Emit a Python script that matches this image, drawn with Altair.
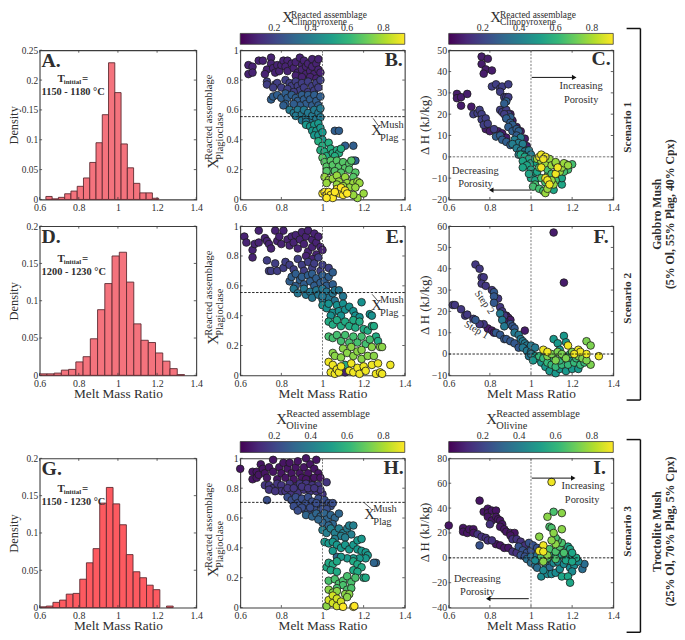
import altair as alt
import pandas as pd

FONT = "Liberation Serif"
W, H = 166.5, 151
W1 = 158.5
FRAME = "#3c3c3c"
TXT = "#2e2e2e"
VIRIDIS = ["#440154", "#482878", "#3e4989", "#31688e", "#26828e", "#1f9e89", "#35b779", "#6ece58", "#b5de2b", "#fde725"]
CMIN, CMAX = 0.015, 0.92
MMR_TICKS = [0.6, 0.8, 1, 1.2, 1.4]

# ---------------- histograms (bin start, bin end implied by width, density)
A_width = 0.032
A_start = [0.632, 0.664, 0.696, 0.728, 0.76, 0.792, 0.824, 0.856, 0.888, 0.92, 0.952, 0.984, 1.016, 1.048, 1.08, 1.112, 1.144, 1.176]
A_dens = [0.005, 0.001, 0.0035, 0.0095, 0.014, 0.022, 0.036, 0.062, 0.095, 0.142, 0.229, 0.179, 0.093, 0.053, 0.027, 0.011, 0.011, 0.002]
D_width = 0.037
D_start = [0.6, 0.637, 0.674, 0.711, 0.748, 0.785, 0.822, 0.859, 0.896, 0.933, 0.97, 1.007, 1.044, 1.081, 1.118, 1.155, 1.192, 1.229, 1.266, 1.303]
D_dens = [0.002, 0.002, 0.003, 0.007, 0.008, 0.018, 0.025, 0.049, 0.088, 0.123, 0.16, 0.165, 0.125, 0.069, 0.047, 0.044, 0.03, 0.019, 0.009, 0.001]
G_width = 0.0341
G_start = [0.6, 0.634, 0.668, 0.702, 0.736, 0.771, 0.805, 0.839, 0.873, 0.907, 0.941, 0.975, 1.009, 1.043, 1.078, 1.112, 1.146, 1.18, 1.248]
G_dens = [0.001, 0.002, 0.007, 0.01, 0.018, 0.019, 0.038, 0.06, 0.079, 0.14, 0.161, 0.139, 0.111, 0.071, 0.048, 0.04, 0.03, 0.024, 0.002]

# ---------------- scatter groups: (composition, [(melt mass ratio, y), ...])
B_groups = [
 (0.10, [(0.64,0.90),(0.66,0.89),(0.64,0.84),(0.66,0.85),(0.69,0.93),(0.71,0.93),(0.75,0.95),(0.75,0.91),(0.73,0.87),(0.72,0.84),(0.76,0.88),(0.77,0.85),(0.78,0.90),(0.79,0.86),(0.80,0.90),(0.81,0.93),(0.83,0.93),(0.82,0.89),(0.83,0.86),(0.85,0.91),(0.86,0.88),(0.87,0.92),(0.88,0.85),(0.89,0.95),(0.90,0.90),(0.90,0.87),(0.91,0.93),(0.92,0.84),(0.92,0.89),(0.93,0.91),(0.94,0.86),(0.95,0.94),(0.95,0.89),(0.96,0.84),(0.97,0.91),(0.98,0.94),(0.98,0.87),(0.99,0.85),(0.87,0.83),(0.90,0.82),(0.94,0.82),(0.97,0.81)]),
 (0.18, [(0.73,0.79),(0.73,0.77),(0.77,0.77),(0.78,0.78),(0.76,0.75),(0.80,0.75),(0.82,0.80),(0.84,0.78),(0.85,0.76),(0.83,0.74),(0.87,0.79),(0.88,0.76),(0.89,0.73),(0.90,0.78),(0.91,0.75),(0.93,0.79),(0.93,0.72),(0.95,0.76),(0.96,0.73),(0.97,0.78),(0.98,0.75),(0.99,0.80),(0.86,0.72)]),
 (0.28, [(0.75,0.67),(0.76,0.69),(0.78,0.70),(0.80,0.68),(0.82,0.71),(0.83,0.68),(0.85,0.70),(0.87,0.68),(0.88,0.66),(0.90,0.70),(0.91,0.67),(0.92,0.64),(0.93,0.70),(0.94,0.67),(0.95,0.63),(0.96,0.70),(0.97,0.66),(0.98,0.63),(0.99,0.69),(0.89,0.63),(0.86,0.64),(0.82,0.64),(0.81,0.63),(1.06,0.46),(1.08,0.46),(1.11,0.36),(1.15,0.36),(1.15,0.26),(1.16,0.26)]),
 (0.38, [(0.84,0.60),(0.86,0.58),(0.88,0.60),(0.87,0.56),(0.90,0.57),(0.91,0.60),(0.90,0.53),(0.92,0.55),(0.93,0.58),(0.94,0.52),(0.95,0.56),(0.96,0.60),(0.97,0.54),(0.98,0.58),(0.99,0.61),(0.99,0.55),(0.92,0.52)]),
 (0.50, [(0.92,0.50),(0.94,0.49),(0.96,0.50),(0.98,0.51),(0.95,0.46),(0.97,0.46),(0.99,0.48),(0.96,0.43),(0.98,0.43),(1.00,0.45),(1.00,0.40)]),
 (0.58, [(0.98,0.39),(1.00,0.36),(0.99,0.33),(1.01,0.32),(1.03,0.38),(1.04,0.34),(1.02,0.29),(1.05,0.31),(1.07,0.33),(1.08,0.31),(1.06,0.29),(1.09,0.34)]),
 (0.68, [(1.00,0.28),(1.01,0.25),(1.02,0.22),(1.04,0.26),(1.05,0.23),(1.03,0.19),(1.07,0.26),(1.08,0.22),(1.06,0.19),(1.10,0.25),(1.11,0.21),(1.09,0.18),(1.13,0.24),(1.14,0.26),(1.13,0.20),(1.16,0.18),(1.02,0.19),(1.15,0.15)]),
 (0.78, [(1.01,0.15),(1.03,0.13),(1.02,0.11),(1.05,0.14),(1.07,0.16),(1.08,0.12),(1.11,0.15),(1.12,0.11),(1.15,0.11),(1.17,0.12),(1.18,0.11),(1.13,0.08),(1.16,0.08),(1.07,0.10),(1.10,0.09),(1.17,0.01),(1.20,0.04),(1.15,0.03)]),
 (0.92, [(1.00,0.04),(1.01,0.05),(1.02,0.03),(1.03,0.05),(1.04,0.03),(1.05,0.01),(1.02,0.01),(1.07,0.07),(1.08,0.04),(1.09,0.08),(1.06,0.05),(1.10,0.03),(1.11,0.06),(1.12,0.04)]),
]
C_groups = [
 (0.08, [(0.76,47),(0.79,46),(0.76,43.5),(0.78,41),(0.81,40.5),(0.77,39),(0.64,29.5),(0.64,27.5),(0.66,28),(0.66,24),(0.69,29.5),(0.71,23.5),(0.88,18),(0.90,20),(0.91,17),(0.93,14),(0.95,12),(0.97,8.5),(0.98,5),(0.84,12),(0.86,11),(0.88,9),(0.78,13),(0.80,12)]),
 (0.18, [(0.81,33),(0.83,34),(0.85,32),(0.86,33),(0.85,30.5),(0.89,34),(0.87,28),(0.88,28),(0.89,28),(0.72,20),(0.74,20.5),(0.75,22),(0.76,20),(0.76,17.5),(0.78,18),(0.77,15),(0.79,15.5),(0.82,13),(0.85,22),(0.86,21),(0.88,22),(0.89,20),(0.87,20)]),
 (0.28, [(0.88,26),(0.87,25),(0.90,18.5),(0.88,18),(0.90,16),(0.91,15),(0.89,14),(0.91,12),(0.93,13),(0.83,9.5),(0.85,10),(0.86,8),(0.88,7),(0.90,5.5),(0.94,12),(0.93,10)]),
 (0.40, [(0.95,9),(0.92,8),(0.94,6.5),(0.96,6),(0.91,6),(0.93,4),(0.95,3),(0.98,3),(0.97,2.5),(0.99,3),(1.0,1),(0.94,1),(0.96,1)]),
 (0.55, [(0.95,1),(0.97,0),(0.99,-1),(1.0,-3),(0.96,-2),(0.98,-4),(0.96,-5),(1.0,-6),(1.02,-1),(1.03,-3),(1.01,-8),(1.03,-7),(1.0,-10),(1.02,-11),(0.99,-8),(1.15,-13),(1.11,-15.5),(1.15,-10)]),
 (0.65, [(1.02,-13),(1.01,-14),(1.04,-15),(1.06,-16),(1.05,-10),(1.07,-12),(1.08,-9),(1.04,-5),(1.06,-4),(1.08,-6),(1.10,-8),(1.12,-11),(1.13,-6),(1.18,-6),(1.20,-3.5),(1.16,-7),(1.17,-3.5)]),
 (0.78, [(1.03,-1),(1.05,-2),(1.07,-3),(1.09,-1),(1.10,-4),(1.12,-3),(1.14,-7),(1.15,-5),(1.16,-3),(1.18,-4),(1.09,-12),(1.11,-13),(1.07,-17),(1.08,-15),(1.12,-2.5),(1.10,-11)]),
 (0.90, [(1.04,0),(1.05,1),(1.07,0),(1.06,-1),(1.07,-10),(1.08,-11),(1.09,-13),(1.12,-8),(1.13,-5),(1.05,-5)]),
]
E_groups = [
 (0.10, [(0.62,0.93),(0.63,0.89),(0.66,0.84),(0.66,0.79),(0.67,0.88),(0.69,0.89),(0.69,0.97),(0.72,0.92),(0.73,0.90),(0.74,0.88),(0.75,0.85),(0.77,0.97),(0.78,0.90),(0.79,0.93),(0.80,0.88),(0.81,0.97),(0.83,0.91),(0.84,0.87),(0.85,0.93),(0.86,0.89),(0.87,0.94),(0.88,0.85),(0.89,0.91),(0.90,0.96),(0.91,0.88),(0.92,0.93),(0.93,0.97),(0.93,0.83),(0.95,0.91),(0.95,0.86),(0.96,0.95),(0.97,0.81),(0.97,0.89),(0.98,0.93),(0.99,0.86),(1.0,0.84),(0.92,0.80),(0.95,0.78),(1.11,0.02)]),
 (0.18, [(0.73,0.77),(0.74,0.70),(0.75,0.70),(0.77,0.75),(0.78,0.70),(0.81,0.72),(0.82,0.76),(0.84,0.74),(0.86,0.71),(0.88,0.78),(0.90,0.74),(0.91,0.70),(0.93,0.76),(0.95,0.72),(0.96,0.75),(0.98,0.79),(0.99,0.70),(1.0,0.74),(1.03,0.72),(1.16,0.39)]),
 (0.28, [(0.84,0.63),(0.85,0.66),(0.87,0.68),(0.87,0.60),(0.89,0.64),(0.90,0.66),(0.91,0.61),(0.93,0.67),(0.94,0.63),(0.95,0.68),(0.96,0.60),(0.97,0.65),(0.99,0.62),(1.00,0.67),(1.01,0.63),(1.03,0.66),(1.05,0.69),(1.02,0.60),(1.05,0.61)]),
 (0.37, [(0.86,0.58),(0.88,0.55),(0.91,0.58),(0.92,0.54),(0.94,0.56),(0.95,0.52),(0.97,0.57),(0.98,0.54),(1.0,0.58),(1.0,0.51),(1.02,0.56),(1.03,0.52),(1.05,0.55),(1.06,0.57),(1.08,0.57),(1.06,0.50),(1.0,0.53),(1.10,0.53)]),
 (0.47, [(1.00,0.47),(1.02,0.45),(1.03,0.48),(1.05,0.42),(1.07,0.47),(1.08,0.43),(1.10,0.48),(1.11,0.44),(1.13,0.46),(1.15,0.43),(1.19,0.49),(1.04,0.40),(1.09,0.40),(1.16,0.40),(1.18,0.39),(1.23,0.41),(1.24,0.40)]),
 (0.57, [(1.03,0.36),(1.05,0.34),(1.07,0.37),(1.09,0.33),(1.11,0.36),(1.13,0.33),(1.15,0.37),(1.16,0.32),(1.18,0.36),(1.20,0.31),(1.22,0.30),(1.24,0.33),(1.25,0.33),(1.26,0.26),(1.27,0.23),(1.11,0.07)]),
 (0.65, [(1.03,0.26),(1.05,0.25),(1.07,0.27),(1.09,0.23),(1.11,0.27),(1.13,0.22),(1.15,0.26),(1.17,0.22),(1.19,0.26),(1.21,0.21),(1.23,0.24)]),
 (0.76, [(1.05,0.15),(1.06,0.13),(1.09,0.12),(1.10,0.18),(1.12,0.15),(1.14,0.19),(1.15,0.13),(1.17,0.16),(1.19,0.11),(1.19,0.17),(1.22,0.13),(1.24,0.19),(1.25,0.13),(1.28,0.19),(1.29,0.19)]),
 (0.90, [(1.03,0.09),(1.04,0.02),(1.05,0.07),(1.06,0.01),(1.07,0.04),(1.08,0.02),(1.09,0.06),(1.13,0.03),(1.14,0.08),(1.15,0.02),(1.17,0.05),(1.18,0.01),(1.20,0.06),(1.21,0.03),(1.24,0.07),(1.26,0.01),(1.28,0.02),(1.29,0.01),(1.33,0.07),(1.27,0.08)]),
]
F_groups = [
 (0.08, [(1.11,57),(1.16,33.5),(0.86,18),(0.88,18),(0.89,17),(0.90,16),(0.97,11),(0.79,12),(0.81,11),(0.82,10),(0.87,16)]),
 (0.16, [(0.73,42),(0.75,40),(0.76,36),(0.77,36),(0.76,33),(0.78,32),(0.81,30),(0.84,26),(0.85,22),(0.86,20),(0.87,18),(0.62,23),(0.63,23),(0.66,21),(0.68,18),(0.69,18.5),(0.72,16.5),(0.77,14),(0.75,14)]),
 (0.26, [(0.82,29),(0.82,27),(0.82,24),(0.90,14),(0.91,13),(0.92,12),(0.73,16),(0.83,10),(0.85,9),(0.87,7),(0.88,7),(0.90,6),(0.92,5),(0.94,3)]),
 (0.38, [(0.85,19),(0.86,16),(0.87,13),(0.92,10),(0.94,9),(0.95,7),(0.96,6),(0.97,5),(0.98,4),(0.99,2.5),(0.96,3),(0.98,1.5),(1.0,1),(1.0,4),(1.02,3),(0.99,-1),(1.0,0)]),
 (0.50, [(1.02,-1),(1.03,-2),(1.01,-3),(1.05,-4),(1.07,-6),(1.09,-8),(1.12,-9),(1.14,-7),(1.17,-8),(1.20,-7),(1.23,-7),(1.11,7),(1.16,8.5),(1.13,5),(1.17,5.5),(1.19,-3),(1.14,2)]),
 (0.62, [(1.04,-1),(1.06,-2),(1.08,-4),(1.10,-5),(1.12,-6),(1.15,-5),(1.18,-5),(1.21,-4),(1.24,-5),(1.26,-4),(1.14,-3),(1.11,-2),(1.16,-1),(1.22,-2),(1.19,0)]),
 (0.74, [(1.08,-1),(1.10,0),(1.12,-3),(1.13,1),(1.15,0),(1.17,-2),(1.20,1),(1.23,-1),(1.25,-2),(1.27,6),(1.29,4),(1.29,-5),(1.27,-3)]),
 (0.90, [(1.06,2),(1.08,1),(1.18,4),(1.23,2),(1.24,1),(1.33,-1),(1.27,0),(1.21,0)]),
]
H_groups = [
 (0.06, [(0.60,0.93),(0.66,0.91),(0.66,0.86),(0.68,0.91),(0.68,0.87),(0.69,0.89),(0.70,0.96),(0.71,0.93),(0.72,0.90),(0.73,0.87),(0.74,0.94),(0.76,0.99),(0.76,0.91),(0.78,0.86),(0.79,0.94),(0.80,0.90),(0.81,0.97),(0.82,0.87),(0.83,0.93),(0.84,0.97),(0.85,0.90),(0.86,0.86),(0.87,0.94),(0.88,0.98),(0.89,0.90),(0.90,0.87),(0.91,0.94),(0.92,1.0),(0.93,0.90),(0.94,0.96),(0.95,0.86),(0.96,0.93),(0.97,0.99),(0.98,0.90),(0.96,0.87),(0.99,0.87),(0.92,0.86)]),
 (0.15, [(0.72,0.82),(0.74,0.82),(0.76,0.80),(0.78,0.83),(0.80,0.82),(0.80,0.78),(0.82,0.78),(0.84,0.83),(0.85,0.77),(0.87,0.81),(0.88,0.77),(0.89,0.83),(0.91,0.79),(0.92,0.83),(0.94,0.78),(0.95,0.82),(0.97,0.78),(0.98,0.82),(1.02,0.84),(1.0,0.76),(0.99,0.79),(0.83,0.80),(0.86,0.80),(0.90,0.81),(0.93,0.80),(0.96,0.80),(0.74,0.79),(0.77,0.78)]),
 (0.23, [(0.83,0.74),(0.85,0.72),(0.87,0.74),(0.88,0.70),(0.90,0.73),(0.92,0.70),(0.93,0.74),(0.95,0.71),(0.96,0.68),(0.98,0.73),(0.99,0.69),(1.01,0.72),(1.03,0.70),(1.04,0.68),(1.05,0.70),(0.91,0.66),(0.93,0.65),(0.96,0.66),(1.0,0.66),(0.90,0.67),(0.73,0.72),(0.86,0.68),(0.88,0.65),(0.94,0.67),(0.97,0.70),(1.02,0.66)]),
 (0.31, [(0.92,0.62),(0.95,0.61),(0.97,0.63),(0.99,0.61),(1.01,0.63),(1.02,0.59),(1.04,0.62),(1.06,0.60),(1.08,0.63),(1.05,0.56),(1.0,0.57),(1.03,0.55),(0.98,0.59),(1.26,0.30),(1.25,0.30),(1.07,0.34)]),
 (0.41, [(1.0,0.52),(1.02,0.50),(1.04,0.53),(1.06,0.50),(1.08,0.53),(1.10,0.50),(1.12,0.53),(1.13,0.55),(1.14,0.49),(1.15,0.55),(1.09,0.48),(1.11,0.47),(1.06,0.46)]),
 (0.50, [(1.01,0.44),(1.03,0.43),(1.05,0.44),(1.07,0.42),(1.09,0.40),(1.11,0.42),(1.13,0.39),(1.15,0.42),(1.17,0.45),(1.19,0.46),(1.17,0.39),(1.19,0.38),(1.21,0.37),(1.22,0.35),(1.21,0.33),(1.18,0.33),(1.15,0.33),(1.12,0.33),(1.09,0.34),(1.05,0.38)]),
 (0.56, [(1.02,0.27),(1.03,0.30),(1.05,0.29),(1.07,0.31),(1.04,0.25),(1.07,0.24),(1.15,0.31),(1.17,0.29),(1.19,0.27),(1.15,0.25),(1.17,0.24),(1.20,0.20),(1.21,0.20)]),
 (0.66, [(1.03,0.18),(1.06,0.19),(1.08,0.16),(1.10,0.18),(1.12,0.21),(1.14,0.17),(1.16,0.20),(1.10,0.15),(1.12,0.12),(1.14,0.13),(1.07,0.13)]),
 (0.76, [(1.03,0.12),(1.05,0.10),(1.07,0.11),(1.11,0.09),(1.13,0.09),(1.12,0.07),(1.02,0.01),(1.09,0.01)]),
 (0.86, [(1.03,0.05),(1.05,0.08),(1.05,0.03),(1.07,0.06),(1.07,0.01),(1.09,0.04)]),
 (0.92, [(1.10,0.005),(1.15,0.005),(1.155,0.01)]),
]
I_groups = [
 (0.06, [(0.60,26),(0.75,46),(0.77,37),(0.79,39.5),(0.79,36),(0.81,38),(0.83,38),(0.79,33),(0.81,30),(0.83,33),(0.84,31),(0.85,30),(0.67,24),(0.67,21),(0.69,20),(0.70,23),(0.72,23),(0.72,20),(0.86,27),(0.85,25),(0.87,23),(0.88,21),(0.90,20),(0.92,20),(0.90,18),(0.83,11),(0.85,10),(0.87,8),(0.89,8)]),
 (0.14, [(0.74,19),(0.76,17),(0.78,16),(0.79,14),(0.81,14),(0.80,27),(0.91,15),(0.93,15),(0.95,13),(0.91,5),(0.93,4),(0.97,10)]),
 (0.24, [(0.75,10),(0.94,9),(0.96,6),(0.98,4),(1.0,6),(0.95,2),(0.97,1),(0.99,12),(1.01,10),(1.03,8),(1.05,7)]),
 (0.34, [(1.25,-9),(1.26,-5),(0.98,-1),(1.0,-4),(1.02,-6),(1.0,1),(1.03,2),(1.05,-2),(1.07,-5),(1.09,-8),(1.03,-8)]),
 (0.45, [(1.05,-15),(1.08,-13),(1.10,-13),(1.12,-12),(1.06,-10),(1.02,-2),(1.08,-1),(1.11,-4),(1.14,-9),(1.13,-3),(1.16,-5),(1.19,-8),(1.21,-6),(1.23,-3),(1.2,-11)]),
 (0.55, [(1.15,-15),(1.18,-15),(1.19,-20),(1.10,3),(1.12,1),(1.15,2),(1.17,1),(1.2,2),(1.22,0),(1.18,9),(1.19,7),(1.2,4),(1.14,7),(1.17,-2),(1.2,-3)]),
 (0.66, [(1.09,25),(1.10,24),(1.11,37),(1.07,4),(1.09,7),(1.12,5),(1.14,9),(1.15,12),(1.13,14),(1.12,16),(1.05,1),(1.08,0),(1.12,-1),(1.16,4)]),
 (0.76, [(1.15,36),(1.08,33),(1.11,20),(1.15,23),(1.04,17),(1.12,11),(1.10,14),(1.08,2),(1.06,-3)]),
 (0.90, [(1.10,61),(1.06,10),(1.04,5.5),(1.06,5)]),
]


def ann(ox, oy, text, x, y, size=10.5, bold=False, angle=0, align="left", color=TXT, baseline="alphabetic"):
    """Real text placed at page coordinates relative to a panel origin."""
    kw = {}
    if angle:
        kw["angle"] = angle
    return alt.Chart().mark_text(text=text, font=FONT, fontSize=size, fontWeight="bold" if bold else "normal",
                                 align=align, baseline=baseline, color=color, **kw).encode(
        x=alt.value(x - ox), y=alt.value(y - oy))


def seg(ox, oy, x1, y1, x2, y2, color="#111111", width=1.0):
    return alt.Chart().mark_rule(color=color, strokeWidth=width).encode(
        x=alt.value(x1 - ox), x2=alt.value(x2 - ox), y=alt.value(y1 - oy), y2=alt.value(y2 - oy))


def arrow(ox, oy, x1, x2, y):
    shape = "triangle-right" if x2 > x1 else "triangle-left"
    head = alt.Chart().mark_point(shape=shape, filled=True, size=28, color="#111111", opacity=1).encode(
        x=alt.value(x2 - ox), y=alt.value(y - oy))
    return alt.layer(seg(ox, oy, x1, y, x2, y, width=1), head)


def inner_ticks(xticks, yticks, xs, ys, xa, ya, w):
    tx = pd.DataFrame({"t": xticks})
    ty = pd.DataFrame({"t": yticks})
    L = 2.5
    out = []
    for a, b in ((0, L), (H - L, H)):
        out.append(alt.Chart(tx).mark_rule(color=FRAME, strokeWidth=0.8).encode(
            x=alt.X("t:Q", scale=xs, axis=xa), y=alt.value(a), y2=alt.value(b)))
    for a, b in ((0, L), (w - L, w)):
        out.append(alt.Chart(ty).mark_rule(color=FRAME, strokeWidth=0.8).encode(
            y=alt.Y("t:Q", scale=ys, axis=ya), x=alt.value(a), x2=alt.value(b)))
    return out


def x_axis(title=None, tpad=-2):
    return alt.Axis(values=MMR_TICKS, ticks=False, domain=False, grid=False, format=".3~r", labelFont=FONT,
                    labelFontSize=10, labelColor=TXT, labelPadding=3, titleFont=FONT, titleFontSize=13.5,
                    titleFontWeight="normal", titleColor=TXT, titlePadding=tpad, labelOverlap=False, labelFlush=False,
                    title=title if title else None)


def y_axis(ticks, title=None, size=10):
    return alt.Axis(values=ticks, ticks=False, domain=False, grid=False, format=".3~r", labelFont=FONT,
                    labelFontSize=size, labelColor=TXT, labelPadding=2, titleFont=FONT, titleFontSize=12.5,
                    titleFontWeight="normal", titleColor=TXT, titlePadding=1, labelOverlap=False, labelFlush=False,
                    title=title if title else None)


XS = alt.Scale(domain=[0.6, 1.4], nice=False, zero=False)
BOX = alt.ViewConfig(stroke=FRAME, strokeWidth=1.1)
NOBOX = alt.ViewConfig(stroke=None)


def hist(starts, dens, width, ymax, yticks, fill, extras, xtitle=None):
    df = pd.DataFrame({"a": starts, "d": dens})
    df["b"] = df["a"] + width
    ys = alt.Scale(domain=[0, ymax], nice=False, zero=False)
    xa, ya = x_axis(xtitle), y_axis(yticks, "Density", 9.5)
    bars = alt.Chart(df).mark_rect(fill=fill, stroke="#5c2a30", strokeWidth=0.9).encode(
        x=alt.X("a:Q", scale=XS, axis=xa), x2="b:Q",
        y=alt.Y("d:Q", scale=ys, axis=ya), y2=alt.Y2(datum=0))
    return alt.layer(bars, *inner_ticks(MMR_TICKS, yticks, XS, ys, xa, ya, W1), *extras).properties(width=W1, height=H, view=BOX)


def scatter(groups, ymin, ymax, yticks, extras, hval, hcolor="#111111", xtitle=None):
    rows = [(x, y, c) for c, pts in groups for (x, y) in pts]
    df = pd.DataFrame(rows, columns=["x", "y", "c"])
    ys = alt.Scale(domain=[ymin, ymax], nice=False, zero=False)
    xa, ya = x_axis(xtitle), y_axis(yticks)
    pts = alt.Chart(df).mark_circle(size=60, opacity=1, stroke="#1c1c1c", strokeWidth=0.8).encode(
        x=alt.X("x:Q", scale=XS, axis=xa),
        y=alt.Y("y:Q", scale=ys, axis=ya),
        color=alt.Color("c:Q", scale=alt.Scale(range=VIRIDIS, domain=[CMIN, CMAX]), legend=None))
    vl = alt.Chart(pd.DataFrame({"x": [1.0]})).mark_rule(color="#777777", strokeWidth=1, strokeDash=[2, 1.5]).encode(
        x=alt.X("x:Q", scale=XS, axis=xa))
    hl = alt.Chart(pd.DataFrame({"y": [hval]})).mark_rule(color=hcolor, strokeWidth=0.9, strokeDash=[2.5, 1.5]).encode(
        y=alt.Y("y:Q", scale=ys, axis=ya))
    return alt.layer(pts, *inner_ticks(MMR_TICKS, yticks, XS, ys, xa, ya, W), vl, hl, *extras).properties(width=W, height=H, view=BOX)


def colorbar(ox, oy, line2, x_X, x_t, base_X, base_1, base_2, fs=10.5):
    ramp = alt.LinearGradient(gradient="linear", x1=0, x2=1, y1=0, y2=0,
                              stops=[alt.GradientStop(offset=i / 9, color=c) for i, c in enumerate(VIRIDIS)])
    cs = alt.Scale(domain=[CMIN, CMAX], nice=False, zero=False)
    ax = alt.Axis(orient="top", values=[0.2, 0.4, 0.6, 0.8], ticks=False, domain=False, grid=False, format=".3~r",
                  labelFont=FONT, labelFontSize=10, labelColor=TXT, labelPadding=1, title=None, labelFlush=False)
    r = alt.Chart().mark_rect(color=ramp, stroke=FRAME, strokeWidth=0.8).encode(
        x=alt.X(datum=CMIN, scale=cs, axis=ax), x2=alt.X2(datum=CMAX))
    return alt.layer(r,
                     ann(ox, oy, "X", x_X, base_X, size=15),
                     ann(ox, oy, "Reacted assemblage", x_t, base_1, size=fs),
                     ann(ox, oy, line2, x_t, base_2, size=fs)).properties(width=W, height=11, view=NOBOX)


def ylabel_plag(ox, oy, x_base, y_start):
    return [ann(ox, oy, "X", x_base + 6, y_start + 9, size=15, angle=270),
            ann(ox, oy, "Reacted assemblage", x_base, y_start, size=10.7, angle=270),
            ann(ox, oy, "Plagioclase", x_base + 11, y_start, size=10.5, angle=270)]


def mush(ox, oy, x, base, lead):
    return [ann(ox, oy, "X", x, base, size=15),
            ann(ox, oy, "Mush", x + 9, base - 7, size=10.5),
            ann(ox, oy, "Plag", x + 9, base + 6, size=10.5),
            seg(ox, oy, *lead, width=0.7)]


def tinit(ox, oy, base, line2):
    return [ann(ox, oy, "T", 58, base, size=11, bold=True),
            ann(ox, oy, "initial", 64.5, base + 2, size=7, bold=True),
            ann(ox, oy, "=", 83, base, size=11, bold=True),
            ann(ox, oy, line2, 42, base + 13, size=10.5, bold=True)]


X1, X2, X3 = 40, 242.5, 453
R1, R2, R3 = 49, 227, 462

# ---- panels -----------------------------------------------------------------
A = hist(A_start, A_dens, A_width, 0.25, [0, 0.05, 0.1, 0.15, 0.2, 0.25], "#f4737d",
         [ann(X1, R1, "A.", 42, 66, size=20, bold=True)] + tinit(X1, R1, 81, "1150 - 1180 °C"))
D = hist(D_start, D_dens, D_width, 0.2, [0, 0.05, 0.1, 0.15, 0.2], "#f4737d",
         [ann(X1, R2, "D.", 42, 244, size=20, bold=True)] + tinit(X1, R2, 263, "1200 - 1230 °C"), "Melt Mass Ratio")
G = hist(G_start, G_dens, G_width, 0.2, [0, 0.05, 0.1, 0.15, 0.2], "#fd5a60",
         [ann(X1, R3, "G.", 42, 479, size=20, bold=True)] + tinit(X1, R3, 496, "1150 - 1230 °C"), "Melt Mass Ratio")

Y01 = [0, 0.2, 0.4, 0.6, 0.8, 1]
B = scatter(B_groups, 0, 1, Y01,
            [ann(X2, R1, "B.", 407, 65, size=20, bold=True, align="right")] + mush(X2, R1, 375, 135, (377, 118, 382, 125)) +
            ylabel_plag(X2, R1, 214, 160), 0.555)
E = scatter(E_groups, 0, 1, Y01,
            [ann(X2, R2, "E.", 408, 244, size=20, bold=True, align="right")] + mush(X2, R2, 375, 312, (376, 296, 382, 303)) +
            ylabel_plag(X2, R2, 214, 338), 0.555, xtitle="Melt Mass Ratio")
Hh = scatter(H_groups, 0, 1, Y01,
             [ann(X2, R3, "H.", 408, 478, size=20, bold=True, align="right")] + mush(X2, R3, 368, 523, (368, 507, 375, 513)) +
             ylabel_plag(X2, R3, 214, 573), 0.705, xtitle="Melt Mass Ratio")


def dh_label(ox, oy, cy):
    return ann(ox, oy, "Δ H (kJ/kg)", 433, cy, size=13, angle=270, align="center")


def side(ox, oy, text, cx, cy, size=11.5):
    return ann(ox, oy, text, cx, cy, size=size, bold=True, angle=270, align="center", baseline="middle")


Cc = scatter(C_groups, -20, 50, [-20, -10, 0, 10, 20, 30, 40, 50],
             [ann(X3, R1, "C.", 617, 64, size=20, bold=True, align="right"), dh_label(X3, R1, 125),
              ann(X3, R1, "Increasing", 587, 88, align="center"), ann(X3, R1, "Porosity", 587, 102, align="center"),
              ann(X3, R1, "Decreasing", 480, 174, align="center"), ann(X3, R1, "Porosity", 480, 187, align="center"),
              arrow(X3, R1, 537, 580, 76.5), arrow(X3, R1, 536, 496, 190.5),
              side(X3, R1, "Scenario 1", 634, 127),
              seg(X3, R1, 633, 27, 647, 27, width=1.5), seg(X3, R1, 647, 27, 647, 403, width=1.5),
              seg(X3, R1, 633, 403, 647, 403, width=1.5),
              side(X3, R1, "Gabbro Mush", 664, 215, 12), side(X3, R1, "(5% Ol, 55% Plag, 40% Cpx)", 677, 215, 12)],
             0, "#666666")
F = scatter(F_groups, -10, 60, [-10, 0, 10, 20, 30, 40, 50, 60],
            [ann(X3, R2, "F.", 615, 244, size=20, bold=True, align="right"), dh_label(X3, R2, 307),
             ann(X3, R2, "Step 2", 489, 304, angle=55, align="center", baseline="middle"),
             ann(X3, R2, "Step 1", 481, 332, angle=30, align="center", baseline="middle"),
             side(X3, R2, "Scenario 2", 634, 300)],
            0, xtitle="Melt Mass Ratio")
I = scatter(I_groups, -40, 80, [-40, -20, 0, 20, 40, 60, 80],
            [ann(X3, R3, "I.", 612, 478, size=20, bold=True, align="right"), dh_label(X3, R3, 537),
             ann(X3, R3, "Increasing", 589, 493, align="center"), ann(X3, R3, "Porosity", 588, 507, align="center"),
             ann(X3, R3, "Decreasing", 482, 587, align="center"), ann(X3, R3, "Porosity", 482, 600, align="center"),
             arrow(X3, R3, 537, 579, 482), arrow(X3, R3, 534, 493, 604),
             side(X3, R3, "Scenario 3", 634, 536),
             seg(X3, R3, 633, 443, 647, 443, width=1.5), seg(X3, R3, 647, 443, 647, 638, width=1.5),
             seg(X3, R3, 633, 638, 647, 638, width=1.5),
             side(X3, R3, "Troctolite Mush", 664, 536, 12), side(X3, R3, "(25% Ol, 70% Plag, 5% Cpx)", 677, 536, 12)],
            0, xtitle="Melt Mass Ratio")

# ---- colour bars and spacers ---------------------------------------------------
Y_CB1, Y_CB3 = 32, 445
cb_b = colorbar(X2, Y_CB1, "Clinopyroxene", 285, 294, 20.5, 16, 23, 9.5)
cb_c = colorbar(X3, Y_CB1, "Clinopyroxene", 495, 505, 20.5, 16, 23, 9.5)
cb_h = colorbar(X2, Y_CB3, "Olivine", 279, 289, 427, 420, 432)
cb_i = colorbar(X3, Y_CB3, "Olivine", 491, 501, 427, 420, 432)


def spacer(h, w=W):
    return alt.Chart().mark_point(opacity=0).encode(x=alt.value(0), y=alt.value(0)).properties(width=w, height=h, view=NOBOX)


GAP = 6
cells = [spacer(11, W1), cb_b, cb_c,
         A, B, Cc,
         spacer(15, W1), spacer(15), spacer(15),
         D, E, F,
         spacer(55, W1), spacer(55), spacer(55),
         spacer(11, W1), cb_h, cb_i,
         G, Hh, I]

chart = alt.concat(*cells, columns=3, spacing={"row": GAP, "column": 44}, bounds="flush", align="each").properties(
    padding={"left": -2, "top": -2, "right": 0, "bottom": -5}, background="white"
)

chart.save("out.html", embed_options={"renderer": "svg", "actions": False})
